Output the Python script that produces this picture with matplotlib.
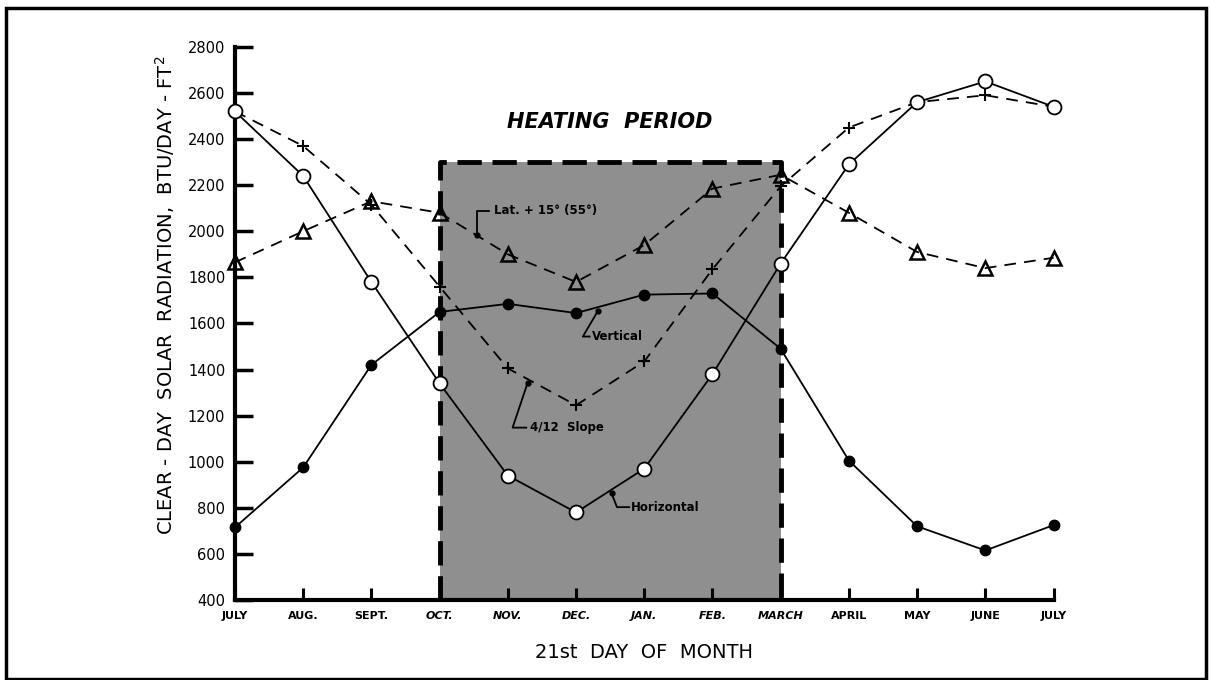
import matplotlib
matplotlib.use('Agg')
import matplotlib.pyplot as plt
from matplotlib.patches import Rectangle

# month labels along the x axis (21st day of each month)
months = ['JULY', 'AUG.', 'SEPT.', 'OCT.', 'NOV.', 'DEC.', 'JAN.', 'FEB.', 'MARCH',
          'APRIL', 'MAY', 'JUNE', 'JULY']

# clear-day solar radiation, BTU/day-ft2
horizontal = [2520, 2240, 1780, 1340, 940, 780, 970, 1380, 1860, 2290, 2560, 2650, 2540]
vertical = [715, 975, 1420, 1650, 1685, 1645, 1725, 1730, 1490, 1005, 720, 615, 725]
slope_4_12 = [2520, 2370, 2115, 1760, 1405, 1245, 1435, 1835, 2195, 2450, 2560, 2590, 2540]
lat_plus_15 = [1865, 2000, 2130, 2080, 1900, 1780, 1940, 2185, 2245, 2080, 1910, 1840, 1885]

heating_start = 3   # Oct.
heating_end = 8     # March
heating_top = 2300

x = list(range(len(months)))

fig = plt.figure(figsize=(12.11, 6.8), dpi=100)
ax = fig.add_axes([0.194, 0.1176, 0.676, 0.8135])

# heating period shading
ax.fill_between([heating_start, heating_end], 400, heating_top, color='#8f8f8f', zorder=0, lw=0)
ax.plot([heating_start, heating_start, heating_end, heating_end],
        [400, heating_top, heating_top, 400], color='black', lw=3.5,
        ls=(0, (5, 2.2)), zorder=1, clip_on=False)

dash = (0, (6.5, 4.5))
ax.plot(x, lat_plus_15, color='black', lw=1.3, ls=dash, marker='^', ms=9.5,
        mfc='none', mec='black', mew=1.8, clip_on=False, zorder=3)
ax.plot(x, slope_4_12, color='black', lw=1.3, ls=dash, marker='+', ms=8,
        mew=1.5, clip_on=False, zorder=3)
ax.plot(x, horizontal, color='black', lw=1.3, marker='o', ms=10,
        mfc='white', mec='black', mew=1.3, clip_on=False, zorder=4)
ax.plot(x, vertical, color='black', lw=1.3, marker='o', ms=7.5,
        mfc='black', mec='black', clip_on=False, zorder=4)

# leader lines and labels
ann_font = dict(fontsize=8.5, fontweight='bold', family='DejaVu Sans', va='center')
ax.plot([3.55, 3.55, 3.72], [1985, 2088, 2088], color='black', lw=1.3, zorder=5)
ax.plot([3.55], [1985], 'ko', ms=3.5, zorder=5)
ax.text(3.8, 2088, 'Lat. + 15° (55°)', **ann_font)

ax.plot([5.32, 5.1, 5.2], [1654, 1543, 1543], color='black', lw=1.3, zorder=5)
ax.plot([5.32], [1654], 'ko', ms=3.5, zorder=5)
ax.text(5.23, 1543, 'Vertical', **ann_font)

ax.plot([4.29, 4.07, 4.27], [1342, 1148, 1148], color='black', lw=1.3, zorder=5)
ax.plot([4.29], [1342], 'ko', ms=3.5, zorder=5)
ax.text(4.32, 1148, '4/12  Slope', **ann_font)

ax.plot([5.52, 5.6, 5.78], [864, 803, 803], color='black', lw=1.3, zorder=5)
ax.plot([5.52], [864], 'ko', ms=3.5, zorder=5)
ax.text(5.81, 803, 'Horizontal', **ann_font)

ax.text(5.49, 2475, 'HEATING  PERIOD', fontsize=15, fontweight='bold',
        fontstyle='italic', ha='center', va='center')

# axes styling
ax.set_xlim(0, 12)
ax.set_ylim(400, 2800)
ax.spines['top'].set_visible(False)
ax.spines['right'].set_visible(False)
ax.spines['left'].set_linewidth(3)
ax.spines['bottom'].set_linewidth(3)
ax.spines['bottom'].set_zorder(6)
ax.set_yticks(range(400, 2801, 200))
ax.set_xticks(x)
ax.set_xticklabels(months)
ax.tick_params(axis='y', direction='in', length=13, width=2.5, labelsize=10.5, pad=7)
ax.tick_params(axis='x', direction='in', length=9, width=2.2, labelsize=8, pad=8)
for lbl in ax.get_xticklabels():
    lbl.set_fontweight('bold')
    if heating_start <= lbl.get_position()[0] <= heating_end:
        lbl.set_fontstyle('italic')
ax.patch.set_visible(False)

fig.text(0.532, 0.04, '21st  DAY  OF  MONTH', fontsize=14, ha='center', va='center')
fig.text(0.136, 0.565, 'CLEAR - DAY  SOLAR  RADIATION,  BTU/DAY - FT$^2$',
         fontsize=14, rotation=90, ha='center', va='center')

# outer frame
fig.patches.append(Rectangle((0.005, 0.002), 0.991, 0.986, transform=fig.transFigure,
                             fill=False, lw=2.5, edgecolor='black'))

fig.savefig('out.png', dpi=100)
